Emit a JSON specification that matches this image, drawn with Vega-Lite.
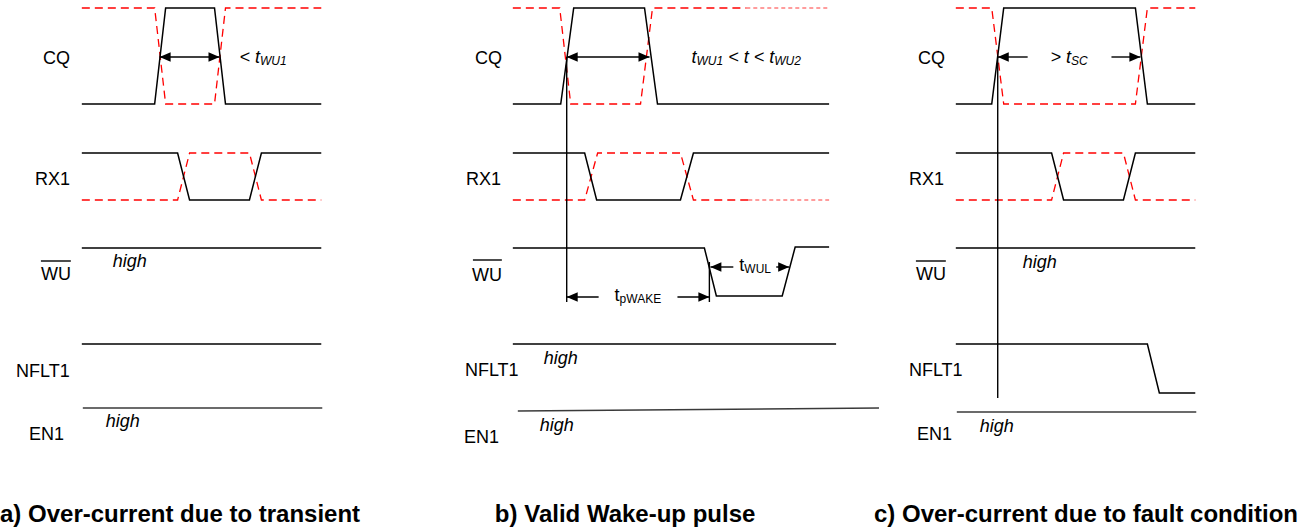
{
  "$schema": "https://vega.github.io/schema/vega-lite/v6.json",
  "width": 1312,
  "height": 531,
  "autosize": {"type": "fit", "contains": "padding"},
  "padding": 0,
  "background": "white",
  "config": {"view": {"stroke": null}, "font": "Liberation Sans"},
  "datasets": {
    "wave": [
      {"id":"aCQ","i":0,"x":79,"y":104,"k":"b"},{"id":"aCQ","i":1,"x":152,"y":104,"k":"b"},{"id":"aCQ","i":2,"x":163,"y":8,"k":"b"},{"id":"aCQ","i":3,"x":212,"y":8,"k":"b"},{"id":"aCQ","i":4,"x":223,"y":104,"k":"b"},{"id":"aCQ","i":5,"x":319,"y":104,"k":"b"},
      {"id":"aRX","i":0,"x":79,"y":153,"k":"b"},{"id":"aRX","i":1,"x":175,"y":153,"k":"b"},{"id":"aRX","i":2,"x":187,"y":200,"k":"b"},{"id":"aRX","i":3,"x":247,"y":200,"k":"b"},{"id":"aRX","i":4,"x":259,"y":153,"k":"b"},{"id":"aRX","i":5,"x":319,"y":153,"k":"b"},
      {"id":"aWU","i":0,"x":79,"y":248,"k":"b"},{"id":"aWU","i":1,"x":319,"y":248,"k":"b"},
      {"id":"aNF","i":0,"x":79,"y":344,"k":"b"},{"id":"aNF","i":1,"x":319,"y":344,"k":"b"},
      {"id":"aEN","i":0,"x":80,"y":408,"k":"e"},{"id":"aEN","i":1,"x":320,"y":408,"k":"e"},
      {"id":"bCQ","i":0,"x":511,"y":104,"k":"b"},{"id":"bCQ","i":1,"x":559,"y":104,"k":"b"},{"id":"bCQ","i":2,"x":572,"y":8,"k":"b"},{"id":"bCQ","i":3,"x":643,"y":8,"k":"b"},{"id":"bCQ","i":4,"x":656,"y":104,"k":"b"},{"id":"bCQ","i":5,"x":828,"y":104,"k":"b"},
      {"id":"bRX","i":0,"x":511,"y":153,"k":"b"},{"id":"bRX","i":1,"x":583,"y":153,"k":"b"},{"id":"bRX","i":2,"x":595,"y":200,"k":"b"},{"id":"bRX","i":3,"x":679,"y":200,"k":"b"},{"id":"bRX","i":4,"x":692,"y":153,"k":"b"},{"id":"bRX","i":5,"x":828,"y":153,"k":"b"},
      {"id":"bWU","i":0,"x":511,"y":248,"k":"b"},{"id":"bWU","i":1,"x":703,"y":248,"k":"b"},{"id":"bWU","i":2,"x":715,"y":296,"k":"b"},{"id":"bWU","i":3,"x":781,"y":296,"k":"b"},{"id":"bWU","i":4,"x":794,"y":247,"k":"b"},{"id":"bWU","i":5,"x":828,"y":247,"k":"b"},
      {"id":"bNF","i":0,"x":511,"y":344,"k":"b"},{"id":"bNF","i":1,"x":835,"y":344,"k":"b"},
      {"id":"bEN","i":0,"x":516,"y":411,"k":"e"},{"id":"bEN","i":1,"x":878,"y":408,"k":"e"},
      {"id":"cCQ","i":0,"x":955,"y":104,"k":"b"},{"id":"cCQ","i":1,"x":991,"y":104,"k":"b"},{"id":"cCQ","i":2,"x":1003,"y":8,"k":"b"},{"id":"cCQ","i":3,"x":1135,"y":8,"k":"b"},{"id":"cCQ","i":4,"x":1147,"y":104,"k":"b"},{"id":"cCQ","i":5,"x":1195,"y":104,"k":"b"},
      {"id":"cRX","i":0,"x":955,"y":153,"k":"b"},{"id":"cRX","i":1,"x":1051,"y":153,"k":"b"},{"id":"cRX","i":2,"x":1063,"y":200,"k":"b"},{"id":"cRX","i":3,"x":1123,"y":200,"k":"b"},{"id":"cRX","i":4,"x":1135,"y":153,"k":"b"},{"id":"cRX","i":5,"x":1195,"y":153,"k":"b"},
      {"id":"cWU","i":0,"x":955,"y":248,"k":"b"},{"id":"cWU","i":1,"x":1195,"y":248,"k":"b"},
      {"id":"cNF","i":0,"x":955,"y":344,"k":"b"},{"id":"cNF","i":1,"x":1147,"y":344,"k":"b"},{"id":"cNF","i":2,"x":1159,"y":393,"k":"b"},{"id":"cNF","i":3,"x":1195,"y":393,"k":"b"},
      {"id":"cEN","i":0,"x":956,"y":412,"k":"e"},{"id":"cEN","i":1,"x":1196,"y":412,"k":"e"},
      {"id":"aCQr","i":0,"x":79,"y":8,"k":"r"},{"id":"aCQr","i":1,"x":152,"y":8,"k":"r"},{"id":"aCQr","i":2,"x":163,"y":104,"k":"r"},{"id":"aCQr","i":3,"x":212,"y":104,"k":"r"},{"id":"aCQr","i":4,"x":223,"y":8,"k":"r"},{"id":"aCQr","i":5,"x":319,"y":8,"k":"r"},
      {"id":"aRXr","i":0,"x":79,"y":200,"k":"r"},{"id":"aRXr","i":1,"x":175,"y":200,"k":"r"},{"id":"aRXr","i":2,"x":187,"y":153,"k":"r"},{"id":"aRXr","i":3,"x":247,"y":153,"k":"r"},{"id":"aRXr","i":4,"x":259,"y":200,"k":"r"},{"id":"aRXr","i":5,"x":319,"y":200,"k":"r"},
      {"id":"bCQr","i":0,"x":511,"y":8,"k":"r"},{"id":"bCQr","i":1,"x":558,"y":8,"k":"r"},{"id":"bCQr","i":2,"x":569,"y":104,"k":"r"},{"id":"bCQr","i":3,"x":639,"y":104,"k":"r"},{"id":"bCQr","i":4,"x":651,"y":8,"k":"r"},{"id":"bCQr","i":5,"x":745,"y":8,"k":"r"},
      {"id":"bCQf","i":0,"x":745,"y":8,"k":"f"},{"id":"bCQf","i":1,"x":828,"y":8,"k":"f"},
      {"id":"bRXr","i":0,"x":511,"y":200,"k":"r"},{"id":"bRXr","i":1,"x":583,"y":200,"k":"r"},{"id":"bRXr","i":2,"x":596,"y":153,"k":"r"},{"id":"bRXr","i":3,"x":679,"y":153,"k":"r"},{"id":"bRXr","i":4,"x":692,"y":200,"k":"r"},{"id":"bRXr","i":5,"x":747,"y":200,"k":"r"},
      {"id":"bRXf","i":0,"x":747,"y":200,"k":"f"},{"id":"bRXf","i":1,"x":828,"y":200,"k":"f"},
      {"id":"cCQr","i":0,"x":955,"y":8,"k":"r"},{"id":"cCQr","i":1,"x":991,"y":8,"k":"r"},{"id":"cCQr","i":2,"x":1003,"y":104,"k":"r"},{"id":"cCQr","i":3,"x":1135,"y":104,"k":"r"},{"id":"cCQr","i":4,"x":1147,"y":8,"k":"r"},{"id":"cCQr","i":5,"x":1195,"y":8,"k":"r"},
      {"id":"cRXr","i":0,"x":955,"y":200,"k":"r"},{"id":"cRXr","i":1,"x":1051,"y":200,"k":"r"},{"id":"cRXr","i":2,"x":1063,"y":153,"k":"r"},{"id":"cRXr","i":3,"x":1123,"y":153,"k":"r"},{"id":"cRXr","i":4,"x":1135,"y":200,"k":"r"},{"id":"cRXr","i":5,"x":1195,"y":200,"k":"r"}
    ],
    "rules": [
      {"x":565,"x2":565,"y":57,"y2":302},
      {"x":997,"x2":997,"y":57,"y2":398},
      {"x":708,"x2":708,"y":262,"y2":302},
      {"x":157,"x2":217,"y":57,"y2":57},
      {"x":565,"x2":648,"y":57,"y2":57},
      {"x":997,"x2":1027,"y":57,"y2":57},
      {"x":1111,"x2":1140,"y":57,"y2":57},
      {"x":565,"x2":597,"y":297,"y2":297},
      {"x":676,"x2":708,"y":297,"y2":297},
      {"x":709,"x2":732,"y":267,"y2":267},
      {"x":775,"x2":788,"y":267,"y2":267},
      {"x":38,"x2":68,"y":261,"y2":261},
      {"x":471,"x2":500,"y":260,"y2":260},
      {"x":915,"x2":945,"y":261,"y2":261}
    ],
    "heads": [
      {"x":157,"y":57,"d":"L"},{"x":565,"y":57,"d":"L"},{"x":997,"y":57,"d":"L"},{"x":565,"y":297,"d":"L"},{"x":709,"y":267,"d":"L"},
      {"x":217,"y":57,"d":"R"},{"x":648,"y":57,"d":"R"},{"x":1140,"y":57,"d":"R"},{"x":708,"y":297,"d":"R"},{"x":788,"y":267,"d":"R"}
    ],
    "texts": [
      {"t":"CQ","x":40,"y":64,"k":"lab"},{"t":"RX1","x":32,"y":185,"k":"lab"},{"t":"WU","x":38,"y":280,"k":"lab"},{"t":"NFLT1","x":13,"y":377,"k":"lab"},{"t":"EN1","x":26,"y":440,"k":"lab"},
      {"t":"CQ","x":473,"y":64,"k":"lab"},{"t":"RX1","x":464,"y":185,"k":"lab"},{"t":"WU","x":470,"y":281,"k":"lab"},{"t":"NFLT1","x":463,"y":376,"k":"lab"},{"t":"EN1","x":462,"y":443,"k":"lab"},
      {"t":"CQ","x":917,"y":64,"k":"lab"},{"t":"RX1","x":908,"y":185,"k":"lab"},{"t":"WU","x":915,"y":280,"k":"lab"},{"t":"NFLT1","x":908,"y":376,"k":"lab"},{"t":"EN1","x":916,"y":440,"k":"lab"},
      {"t":"high","x":110,"y":267,"k":"hi"},{"t":"high","x":103,"y":427,"k":"hi"},{"t":"high","x":542,"y":364,"k":"hi"},{"t":"high","x":538,"y":431,"k":"hi"},{"t":"high","x":1022,"y":268,"k":"hi"},{"t":"high","x":979,"y":432,"k":"hi"},
      {"t":"< t","x":237,"y":63,"k":"it"},{"t":"WU1","x":257.5,"y":65,"k":"its"},
      {"t":"t","x":690,"y":63,"k":"it"},{"t":"WU1","x":695,"y":65,"k":"its"},{"t":"< t < t","x":727,"y":63,"k":"it"},{"t":"WU2","x":773,"y":65,"k":"its"},
      {"t":"> t","x":1050,"y":63,"k":"it"},{"t":"SC","x":1070.5,"y":65,"k":"its"},
      {"t":"t","x":613,"y":301,"k":"up"},{"t":"pWAKE","x":618,"y":303,"k":"ups"},
      {"t":"t","x":738,"y":271,"k":"up"},{"t":"WUL","x":743,"y":273,"k":"ups"},
      {"t":"a) Over-current due to transient","x":-3,"y":522,"k":"cap"},
      {"t":"b) Valid Wake-up pulse","x":493,"y":522,"k":"cap"},
      {"t":"c) Over-current due to fault condition","x":873,"y":522,"k":"cap"}
    ]
  },
  "encoding": {
    "x": {"field": "x", "type": "quantitative", "scale": {"domain": [0, 1312], "nice": false, "zero": false}, "axis": null},
    "y": {"field": "y", "type": "quantitative", "scale": {"domain": [0, 531], "nice": false, "zero": false, "reverse": true}, "axis": null}
  },
  "layer": [
    {
      "data": {"name": "wave"},
      "transform": [{"filter": "datum.k === 'r'"}],
      "mark": {"type": "line", "color": "#ff0000", "strokeWidth": 1.3, "strokeDash": [8, 5]},
      "encoding": {"detail": {"field": "id"}, "order": {"field": "i"}}
    },
    {
      "data": {"name": "wave"},
      "transform": [{"filter": "datum.k === 'f'"}],
      "mark": {"type": "line", "color": "#ff3b3b", "strokeWidth": 1, "strokeDash": [4, 3]},
      "encoding": {"detail": {"field": "id"}, "order": {"field": "i"}}
    },
    {
      "data": {"name": "wave"},
      "transform": [{"filter": "datum.k === 'b'"}],
      "mark": {"type": "line", "color": "#000000", "strokeWidth": 1.5},
      "encoding": {"detail": {"field": "id"}, "order": {"field": "i"}}
    },
    {
      "data": {"name": "wave"},
      "transform": [{"filter": "datum.k === 'e'"}],
      "mark": {"type": "line", "color": "#3a3a3a", "strokeWidth": 1.6},
      "encoding": {"detail": {"field": "id"}, "order": {"field": "i"}}
    },
    {
      "data": {"name": "rules"},
      "mark": {"type": "rule", "color": "#000000", "strokeWidth": 1.4},
      "encoding": {"x2": {"field": "x2"}, "y2": {"field": "y2"}}
    },
    {
      "data": {"name": "heads"},
      "transform": [{"filter": "datum.d === 'R'"}],
      "mark": {"type": "point", "shape": "M0,0L-2,-0.85L-2,0.85Z", "filled": true, "color": "#000000", "size": 121, "opacity": 1}
    },
    {
      "data": {"name": "heads"},
      "transform": [{"filter": "datum.d === 'L'"}],
      "mark": {"type": "point", "shape": "M0,0L2,-0.85L2,0.85Z", "filled": true, "color": "#000000", "size": 121, "opacity": 1}
    },
    {
      "data": {"name": "texts"},
      "transform": [{"filter": "datum.k === 'lab'"}],
      "mark": {"type": "text", "align": "left", "baseline": "alphabetic", "fontSize": 18, "color": "#000000"},
      "encoding": {"text": {"field": "t"}}
    },
    {
      "data": {"name": "texts"},
      "transform": [{"filter": "datum.k === 'hi' || datum.k === 'it'"}],
      "mark": {"type": "text", "align": "left", "baseline": "alphabetic", "fontSize": 18, "fontStyle": "italic", "color": "#000000"},
      "encoding": {"text": {"field": "t"}}
    },
    {
      "data": {"name": "texts"},
      "transform": [{"filter": "datum.k === 'its'"}],
      "mark": {"type": "text", "align": "left", "baseline": "alphabetic", "fontSize": 12, "fontStyle": "italic", "color": "#000000"},
      "encoding": {"text": {"field": "t"}}
    },
    {
      "data": {"name": "texts"},
      "transform": [{"filter": "datum.k === 'up'"}],
      "mark": {"type": "text", "align": "left", "baseline": "alphabetic", "fontSize": 18, "color": "#000000"},
      "encoding": {"text": {"field": "t"}}
    },
    {
      "data": {"name": "texts"},
      "transform": [{"filter": "datum.k === 'ups'"}],
      "mark": {"type": "text", "align": "left", "baseline": "alphabetic", "fontSize": 12, "color": "#000000"},
      "encoding": {"text": {"field": "t"}}
    },
    {
      "data": {"name": "texts"},
      "transform": [{"filter": "datum.k === 'cap'"}],
      "mark": {"type": "text", "align": "left", "baseline": "alphabetic", "fontSize": 24, "fontWeight": "bold", "color": "#000000"},
      "encoding": {"text": {"field": "t"}}
    }
  ]
}
